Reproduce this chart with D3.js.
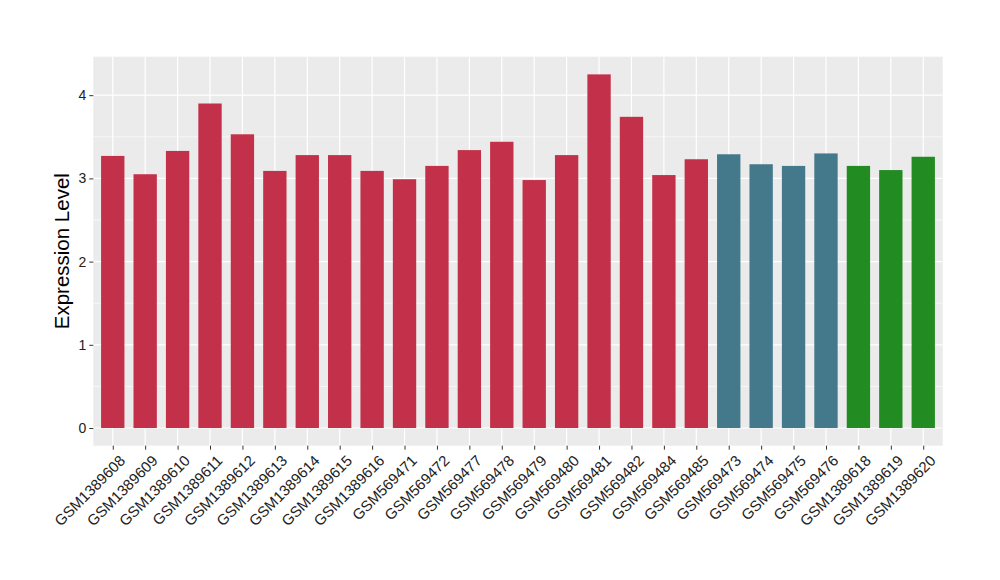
<!DOCTYPE html>
<html><head><meta charset="utf-8">
<script src="https://cdn.jsdelivr.net/npm/d3@7"></script>
<style>body{margin:0;background:#fff}svg{display:block}</style>
</head><body>
<svg id="chart" width="1000" height="580"></svg>
<script>
const samples = ["GSM1389608","GSM1389609","GSM1389610","GSM1389611","GSM1389612","GSM1389613","GSM1389614","GSM1389615","GSM1389616","GSM569471","GSM569472","GSM569477","GSM569478","GSM569479","GSM569480","GSM569481","GSM569482","GSM569484","GSM569485","GSM569473","GSM569474","GSM569475","GSM569476","GSM1389618","GSM1389619","GSM1389620"];
const values = [3.27,3.05,3.33,3.90,3.53,3.09,3.28,3.28,3.09,2.99,3.15,3.34,3.44,2.98,3.28,4.25,3.74,3.04,3.23,3.29,3.17,3.15,3.30,3.15,3.10,3.26];
const groups = ["A","A","A","A","A","A","A","A","A","A","A","A","A","A","A","A","A","A","A","B","B","B","B","C","C","C"];
const groupColors = {A:"#C3304A", B:"#43798B", C:"#228B22"};
const yTicks = [0,1,2,3,4];
const yMinor = [0.5,1.5,2.5,3.5];

const svg = d3.select("#chart");
const L = 93.3, R = 942.7, T = 56.7, B = 445.7;
const ymax = d3.max(values), pad = ymax*0.05;
const y = d3.scaleLinear().domain([-pad, ymax+pad]).range([B, T]);
const x = d3.scalePoint().domain(samples).range([L, R]).padding(0.6);
const bw = x.step()*0.72;
const FONT = "Liberation Sans, Arial, Helvetica, sans-serif";

svg.append("rect").attr("x",L).attr("y",T).attr("width",R-L).attr("height",B-T).attr("fill","#EBEBEB");
const g = svg.append("g");
g.selectAll(".ymin").data(yMinor).enter().append("line")
 .attr("x1",L).attr("x2",R).attr("y1",d=>y(d)).attr("y2",d=>y(d)).attr("stroke","#fff").attr("stroke-width",0.6);
g.selectAll(".ymaj").data(yTicks).enter().append("line")
 .attr("x1",L).attr("x2",R).attr("y1",d=>y(d)).attr("y2",d=>y(d)).attr("stroke","#fff").attr("stroke-width",1.2);
g.selectAll(".xmaj").data(samples).enter().append("line")
 .attr("y1",T).attr("y2",B).attr("x1",d=>x(d)).attr("x2",d=>x(d)).attr("stroke","#fff").attr("stroke-width",1.2);

g.selectAll(".bar").data(samples).enter().append("rect")
 .attr("x",d=>x(d)-bw/2).attr("width",bw)
 .attr("y",(d,i)=>y(values[i])).attr("height",(d,i)=>y(0)-y(values[i]))
 .attr("fill",(d,i)=>groupColors[groups[i]]);

const yAxis = d3.axisLeft(y).tickValues(yTicks).tickSize(4).tickPadding(3).tickFormat(d3.format("d"));
const ya = svg.append("g").attr("transform",`translate(${L},0)`).call(yAxis);
ya.select(".domain").remove();
ya.selectAll("line").attr("stroke","#333").attr("stroke-width",1);
ya.selectAll("text").attr("fill","#222").style("font-family",FONT).style("font-size","14px");

const xAxis = d3.axisBottom(x).tickSize(4).tickPadding(2);
const xa = svg.append("g").attr("transform",`translate(0,${B})`).call(xAxis);
xa.select(".domain").remove();
xa.selectAll("line").attr("stroke","#333").attr("stroke-width",1);
xa.selectAll("text").attr("fill","#222").style("font-family",FONT).style("font-size","15px")
 .attr("text-anchor","end").attr("dy",null).attr("y",null)
 .attr("transform","translate(5,8) rotate(-45)").attr("dominant-baseline","hanging");

svg.append("text").attr("transform",`translate(69,${(T+B)/2}) rotate(-90)`)
 .attr("text-anchor","middle").style("font-family",FONT).style("font-size","20.5px").attr("fill","#000")
 .text("Expression Level");
</script>
</body></html>
